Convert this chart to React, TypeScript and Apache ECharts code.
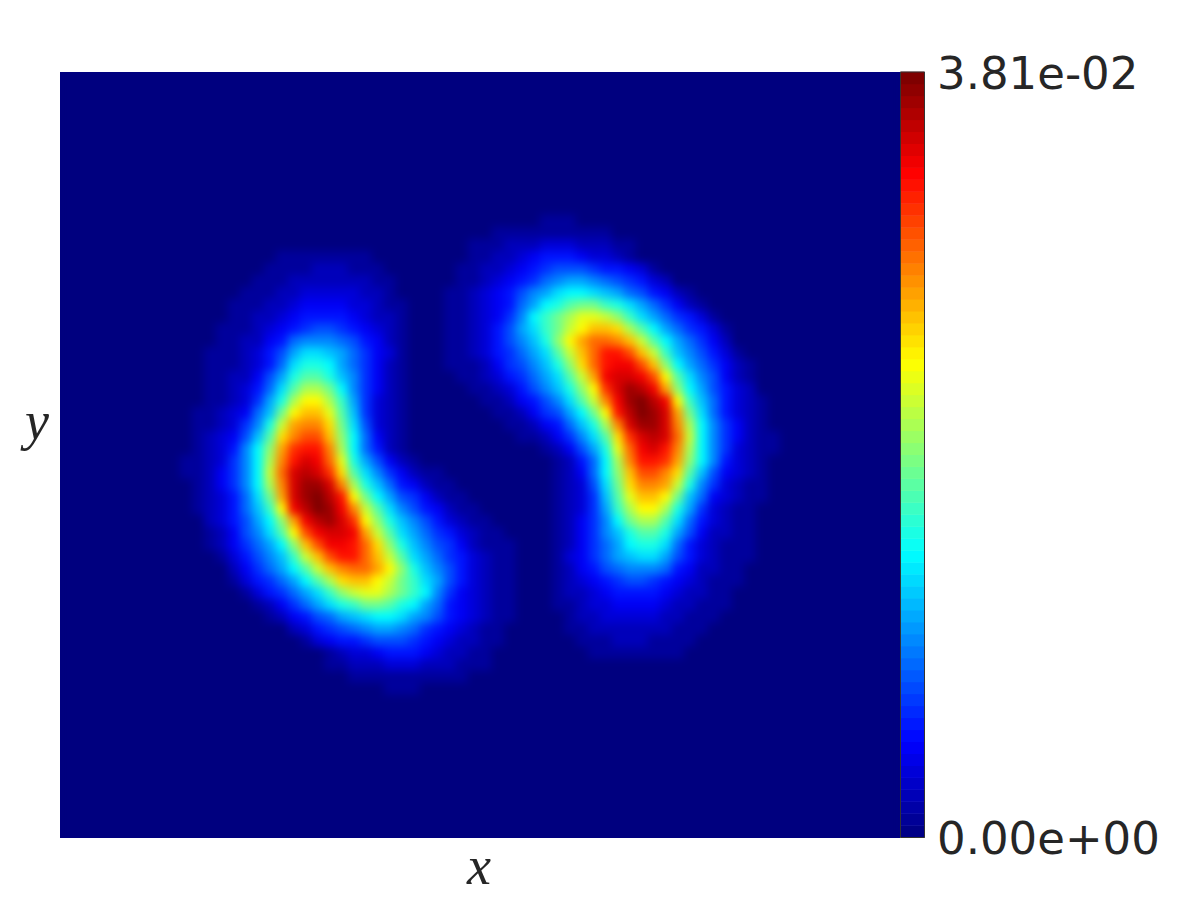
import React, { useEffect, useRef } from "react";
import * as echarts from "echarts";

const columnCount = 70;
const rowCount = 64;
const maxValue = 0.0381;
const levelSpan = 35;

// Levels are base-36 digits (0..z); each string is one row of cells.
const rightLobeFirstRow = 12;
const rightLobeFirstColumn = 31;
const rightLobeRows = [
  "00000000011100000000000000000",
  "00000111111111100000000000000",
  "00011122233322211000000000000",
  "00011223455543321000000000000",
  "00112234567776554310000000000",
  "00112345689aa9876532000000000",
  "011234579acddcba8754210000000",
  "01123458adeghhfeca86421000000",
  "01123469dfhjllkifca8653100000",
  "0112357acfhkmoonjgda865310000",
  "01123579beimprrqokgda86420000",
  "01123568acgkoruusokfb97531000",
  "011124679beinruvvsoida8642100",
  "001123568acgkpvwwvsmgc9742100",
  "0001123579beimtwyxvpida753200",
  "00001124579cgkqvyzxvmfb853210",
  "00000112467adhmuxzywphc853210",
  "000000112458bejqwyywqjd964210",
  "0000000112469cgntwxwrkd964211",
  "0000000001247aelrvwuqjd963211",
  "00000000001258djquutpid953210",
  "00000000001248diossqngb743210",
  "00000000001237chnqqpke9632110",
  "00000000001236bgloomhb8432110",
  "00000000001236afjmmjea6321100",
  "000000000012469dhjjgc85321100",
  "000000000012469beggea74221100",
  "000000000012468adeec853211100",
  "000000000013468abcca753211100",
  "00000000001245789998542211000",
  "00000000001234567765432111000",
  "00000000001223455554322110000",
  "00000000001123344443221110000",
  "00000000000122333332211100000",
  "00000000000112222222111000000",
  "00000000000011122211110000000",
  "00000000000001111111100000000",
];

const leftLobeFirstRow = 15;
const leftLobeFirstColumn = 10;
const leftLobeRows = [
  "00000000111111110000000000000",
  "00000001111222111000000000000",
  "00000011122222221100000000000",
  "00000111223333322100000000000",
  "00001112234444332110000000000",
  "00001122345555432210000000000",
  "00011123456776543210000000000",
  "00011224589998754210000000000",
  "001112357accba864310000000000",
  "001112358ceeda864210000000000",
  "00112247aeggeb964210000000000",
  "00112358cgjjhd964210000000000",
  "0011236aejmmjfa63210000000000",
  "0112348bhmoolgb63210000000000",
  "0112369ekpqqnhc73210000000000",
  "012347bgnqssoid84210000000000",
  "012359diptuuqjd85210000000000",
  "112369djquwvrlea7421000000000",
  "112469dkrwxwtngc9642110000000",
  "012469djqwyywqjeb854211000000",
  "012358chpwyzxumhda76421100000",
  "012358bfmvxzyvqkgc97542110000",
  "002357adipvxywtmieb9753211000",
  "0012479cgmsvwwvpkgca865321100",
  "0012468adiosvvurnieb976421110",
  "00013579bfkosuurokgca86532110",
  "00002468adgkoqrrpmieb97532110",
  "000013568adgjnoomkhfca7532110",
  "0000013568acfiklljhfd96432110",
  "00000012468acefhhgeda85432110",
  "0000000124578abcddca975432110",
  "0000000002356789aa98654321100",
  "00000000001345567776543221100",
  "00000000000012334555432211000",
  "00000000000011222333222111000",
  "00000000000000111111111100000",
  "00000000000000000111000000000",
];

const colorbarLevels = [
  0, 1, 2, 3, 4, 5, 6, 7, 8, 9, 10, 11, 12, 13, 14, 15,
  16, 17, 18, 19, 20, 21, 22, 23, 24, 25, 26, 27, 28, 29, 30, 31,
  32, 33, 34, 35, 36, 37, 38, 39, 40, 41, 42, 43, 44, 45, 46, 47,
  48, 49, 50, 51, 52, 53, 54, 55, 56, 57, 58, 59, 60, 61, 62, 63,
];
const colorbarTickLabels = ["3.81e-02", "0.00e+00"];
const axisNames = ["x", "y"];
const jetColors = [
  "#00007f", "#0000ff", "#007fff", "#00ffff", "#7fff7f",
  "#ffff00", "#ff7f00", "#ff0000", "#7f0000",
];

function levelAt(rows: string[], firstRow: number, firstColumn: number, r: number, c: number) {
  const row = rows[r - firstRow];
  if (!row) return 0;
  const ch = row[c - firstColumn];
  return ch ? parseInt(ch, 36) : 0;
}

function buildCells() {
  const cells: number[][] = [];
  for (let r = 0; r < rowCount; r++) {
    for (let c = 0; c < columnCount; c++) {
      const level = Math.max(
        levelAt(rightLobeRows, rightLobeFirstRow, rightLobeFirstColumn, r, c),
        levelAt(leftLobeRows, leftLobeFirstRow, leftLobeFirstColumn, r, c)
      );
      cells.push([c, r, (level / levelSpan) * maxValue]);
    }
  }
  return cells;
}

const indices = (n: number) => Array.from({ length: n }, (_, i) => String(i));

export default function App() {
  const fieldRef = useRef<HTMLDivElement>(null);
  const overlayRef = useRef<HTMLDivElement>(null);

  useEffect(() => {
    const field = echarts.init(fieldRef.current!, undefined, { renderer: "svg" });
    const overlay = echarts.init(overlayRef.current!, undefined, { renderer: "svg" });

    field.setOption({
      animation: false,
      grid: { left: 0, top: 0, width: 840, height: 768 },
      xAxis: { type: "category", data: indices(columnCount), show: false },
      yAxis: { type: "category", data: indices(rowCount), inverse: true, show: false },
      visualMap: {
        show: false,
        min: 0,
        max: maxValue,
        calculable: false,
        inRange: { color: jetColors },
      },
      series: [
        {
          type: "heatmap",
          data: buildCells(),
          progressive: 0,
          silent: true,
          itemStyle: { borderWidth: 0 },
          emphasis: { disabled: true },
        },
      ],
    });

    overlay.setOption({
      animation: false,
      grid: {
        left: 900.5,
        top: 72,
        width: 24,
        height: 765.5,
        show: true,
        borderColor: "#333333",
        borderWidth: 1,
        backgroundColor: "transparent",
        z: 5,
      },
      xAxis: { type: "category", data: ["0"], show: false },
      yAxis: { type: "category", data: colorbarLevels.map(String), show: false },
      visualMap: {
        show: false,
        min: -0.5,
        max: 63,
        inRange: { color: jetColors },
      },
      series: [
        {
          type: "heatmap",
          data: colorbarLevels.map((v, i) => [0, i, v]),
          progressive: 0,
          silent: true,
          emphasis: { disabled: true },
        },
      ],
      graphic: [
        {
          type: "text",
          x: 937,
          y: 73,
          style: {
            text: colorbarTickLabels[0],
            font: '45px "DejaVu Sans"',
            fill: "#262626",
            verticalAlign: "middle",
          },
        },
        {
          type: "text",
          x: 937,
          y: 838,
          style: {
            text: colorbarTickLabels[1],
            font: '45px "DejaVu Sans"',
            fill: "#262626",
            verticalAlign: "middle",
          },
        },
        {
          type: "text",
          x: 479,
          y: 866,
          style: {
            text: axisNames[0],
            font: 'italic 54px "Liberation Serif"',
            fill: "#262626",
            align: "center",
            verticalAlign: "middle",
          },
        },
        {
          type: "text",
          x: 37,
          y: 421,
          style: {
            text: axisNames[1],
            font: 'italic 54px "Liberation Serif"',
            fill: "#262626",
            align: "center",
            verticalAlign: "middle",
          },
        },
      ],
    });

    return () => {
      field.dispose();
      overlay.dispose();
    };
  }, []);

  return (
    <div style={{ position: "absolute", left: 0, top: 0, width: 1200, height: 900, background: "#ffffff" }}>
      <div
        style={{
          position: "absolute",
          left: 60,
          top: 72,
          width: 840,
          height: 766,
          overflow: "hidden",
          background: "#00007f",
        }}
      >
        <div
          ref={fieldRef}
          style={{ position: "absolute", left: 0, top: -1, width: 840, height: 768, filter: "blur(4px)" }}
        />
      </div>
      <div ref={overlayRef} style={{ position: "absolute", left: 0, top: 0, width: 1200, height: 900 }} />
    </div>
  );
}
